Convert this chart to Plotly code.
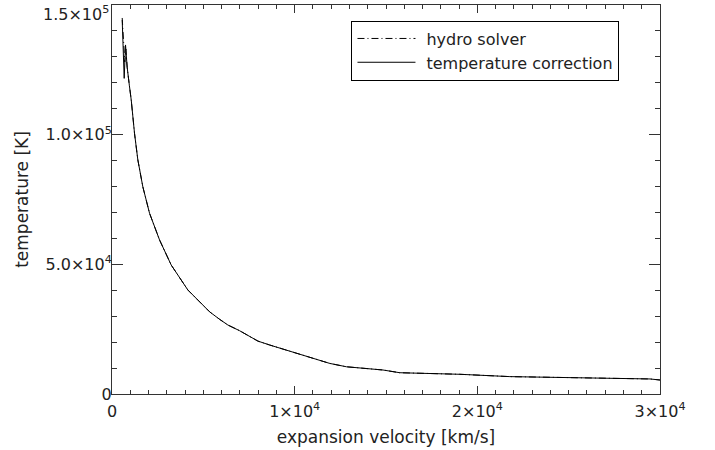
import plotly.graph_objects as go

# Data (velocity in km/s, temperature in K)
vel_corr = [558, 668, 740, 830, 950, 1052, 1233, 1414, 1688, 2055, 2603, 3244, 4153,
            5342, 5890, 6345, 6986, 7989, 8630, 9545, 11003, 11918, 12833, 14838,
            15753, 16849, 19041, 21781, 24521, 27260, 29452, 30000]
temp_corr = [144200, 121700, 134600, 126000, 119000, 113400, 100500, 90300, 79900,
             69700, 59400, 49700, 40100, 31700, 28800, 26600, 24400, 20400, 18900,
             17000, 13800, 11800, 10500, 9250, 8200, 8000, 7600, 6700, 6300, 6050,
             5800, 5400]

vel_hydro = [558, 620, 700, 760, 830, 950, 1052, 1233, 1414, 1688, 2055, 2603, 3244,
             4153, 5342, 5890, 6345, 6986, 7989, 8630, 9545, 11003, 11918, 12833,
             14838, 15753, 16849, 19041, 21781, 24521, 27260, 29452, 30000]
temp_hydro = [145000, 138000, 128000, 133000, 126000, 119000, 113400, 100500, 90300,
              79900, 69700, 59400, 49700, 40100, 31700, 28800, 26600, 24400, 20400,
              18900, 17000, 13800, 11800, 10500, 9250, 8200, 8000, 7600, 6700, 6300,
              6050, 5800, 5400]

x_tickvals = [0, 10000, 20000, 30000]
x_ticktext = ["0", "1×10<sup>4</sup>", "2×10<sup>4</sup>", "3×10<sup>4</sup>"]
y_tickvals = [0, 50000, 100000, 150000]
y_ticktext = ["0", "5.0×10<sup>4</sup>", "1.0×10<sup>5</sup>", ""]
y_top_label = "1.5×10<sup>5</sup>"   # drawn as annotation so it stays inside the page

FONT = "DejaVu Sans, Verdana, sans-serif"
TXT = "#222"
AX = "#333"

fig = go.Figure()
fig.add_trace(go.Scatter(x=vel_hydro, y=temp_hydro, mode="lines", name="hydro solver",
                         line=dict(color="black", width=1, dash="7px,3px,1px,3px")))
fig.add_trace(go.Scatter(x=vel_corr, y=temp_corr, mode="lines",
                         name="temperature correction",
                         line=dict(color="black", width=1)))

axis_common = dict(
    showgrid=False, zeroline=False, showline=True, linecolor=AX, linewidth=1,
    mirror="ticks", ticks="inside", tickcolor=AX, tickwidth=1,
    tickfont=dict(family=FONT, size=16, color=TXT), automargin=False,
    ticklabeloverflow="allow",
)

fig.update_xaxes(range=[0, 30000], tickvals=x_tickvals, ticktext=x_ticktext,
                 ticklen=8, ticklabelstandoff=3,
                 title=dict(text="expansion velocity [km/s]", standoff=10,
                            font=dict(family=FONT, size=17, color=TXT)),
                 minor=dict(dtick=1000, ticks="inside", ticklen=4, tickcolor=AX),
                 **axis_common)
fig.update_yaxes(range=[0, 150000], tickvals=y_tickvals, ticktext=y_ticktext,
                 ticklen=11, ticklabelstandoff=-4,
                 title=dict(text="temperature [K]", standoff=12,
                            font=dict(family=FONT, size=17, color=TXT)),
                 minor=dict(dtick=10000, ticks="inside", ticklen=5, tickcolor=AX),
                 **axis_common)

fig.add_annotation(text=y_top_label, xref="paper", yref="paper", x=0, y=1,
                   xanchor="right", yanchor="top", xshift=-1, yshift=4,
                   showarrow=False, font=dict(family=FONT, size=16, color=TXT))

fig.update_layout(
    width=715, height=450,
    margin=dict(l=112, r=55, t=5, b=56, autoexpand=False),
    paper_bgcolor="white", plot_bgcolor="white",
    showlegend=True,
    legend=dict(x=0.437, y=0.96, xanchor="left", yanchor="top",
                bgcolor="white", bordercolor="black", borderwidth=1,
                font=dict(family=FONT, size=16, color=TXT),
                tracegroupgap=0, itemwidth=64),
)

post = """
document.body.style.margin='0';
document.querySelectorAll('.legend .legendlines path').forEach(function(p){
  p.setAttribute('d','M5,0h58');
});
"""
fig.write_html("out.html", post_script=post, config={"displayModeBar": False})
